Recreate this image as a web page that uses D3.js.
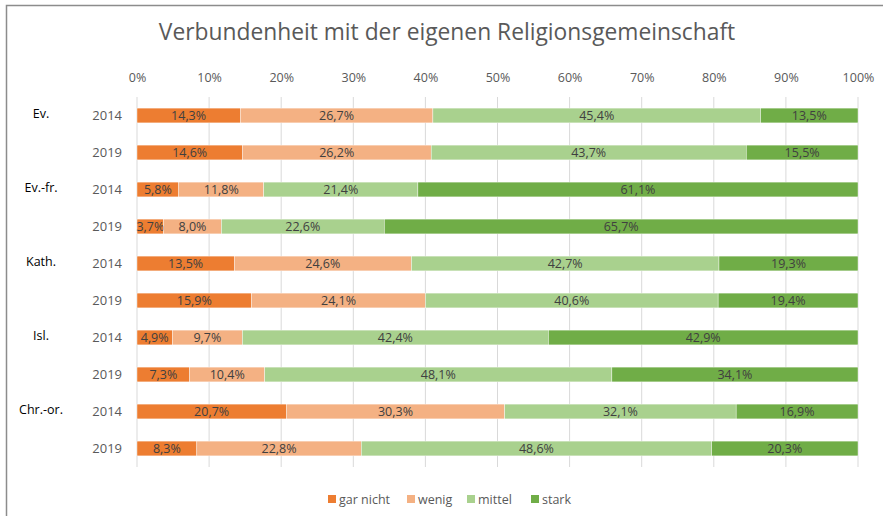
<!DOCTYPE html>
<html>
<head>
<meta charset="utf-8">
<script src="https://cdn.jsdelivr.net/npm/d3@7/dist/d3.min.js"></script>
<style>
  body { margin: 0; background: #fff; }
  svg { font-family: "Open Sans", "Noto Sans", sans-serif; }
</style>
</head>
<body>
<svg width="883" height="516"></svg>
<script>
var groups = ["Ev.", "Ev.-fr.", "Kath.", "Isl.", "Chr.-or."];
var years = ["2014", "2019"];
var levels = ["gar nicht", "wenig", "mittel", "stark"];
var levelColors = ["#ED7D31", "#F4B183", "#A9D18E", "#70AD47"];
var tickValues = [0, 0.1, 0.2, 0.3, 0.4, 0.5, 0.6, 0.7, 0.8, 0.9, 1];

// Werte in Prozent, Reihenfolge wie levels
var garNicht = [14.3, 14.6, 5.8, 3.7, 13.5, 15.9, 4.9, 7.3, 20.7, 8.3];
var wenig    = [26.7, 26.2, 11.8, 8.0, 24.6, 24.1, 9.7, 10.4, 30.3, 22.8];
var mittel   = [45.4, 43.7, 21.4, 22.6, 42.7, 40.6, 42.4, 48.1, 32.1, 48.6];
var stark    = [13.5, 15.5, 61.1, 65.7, 19.3, 19.4, 42.9, 34.1, 16.9, 20.3];

var rows = [];
groups.forEach(function(g, gi) {
  years.forEach(function(y, yi) {
    var i = gi * 2 + yi;
    rows.push({ key: g + "|" + y, group: g, year: y,
      "gar nicht": garNicht[i], "wenig": wenig[i], "mittel": mittel[i], "stark": stark[i] });
  });
});

var de = d3.formatLocale({ decimal: ",", thousands: ".", grouping: [3], currency: ["", " €"] });
var fmtVal = de.format(".1f");
var fmtAxis = de.format(".0%");

var svg = d3.select("svg");

// Rahmen
svg.append("rect")
  .attr("x", 6.5).attr("y", 5.5)
  .attr("width", 900).attr("height", 600)
  .attr("fill", "none").attr("stroke", "#8c8c8c").attr("stroke-width", 1.5);

svg.append("text")
  .attr("x", 447).attr("y", 40)
  .attr("text-anchor", "middle")
  .attr("font-size", 22.8)
  .attr("fill", "#595959")
  .text("Verbundenheit mit der eigenen Religionsgemeinschaft");

var x = d3.scaleLinear().domain([0, 1]).range([137, 858]);
var y = d3.scaleBand().domain(rows.map(function(d) { return d.key; }))
  .range([97, 467]).paddingInner(0.6).paddingOuter(0.3);

// Gitterlinien
svg.append("g").selectAll("line")
  .data(tickValues)
  .enter().append("line")
  .attr("x1", function(d) { return x(d); })
  .attr("x2", function(d) { return x(d); })
  .attr("y1", 97).attr("y2", 467)
  .attr("stroke", "#d9d9d9").attr("stroke-width", 1);

var axis = svg.append("g")
  .attr("transform", "translate(0,97)")
  .call(d3.axisTop(x).tickValues(tickValues).tickFormat(fmtAxis).tickSize(0).tickPadding(15));
axis.select(".domain").remove();
axis.selectAll("text").attr("font-size", 12.5).attr("fill", "#595959")
  .attr("font-family", "Open Sans, sans-serif");

var stack = d3.stack().keys(levels).offset(d3.stackOffsetExpand);
var series = stack(rows);

var layer = svg.append("g").selectAll("g")
  .data(series)
  .enter().append("g")
  .attr("fill", function(d, i) { return levelColors[i]; });

layer.selectAll("rect")
  .data(function(d) { return d; })
  .enter().append("rect")
  .attr("x", function(d) { return x(d[0]); })
  .attr("width", function(d) { return x(d[1]) - x(d[0]); })
  .attr("y", function(d) { return y(d.data.key); })
  .attr("height", y.bandwidth())
  .attr("stroke", "#fff").attr("stroke-width", 0.4);

layer.selectAll("text")
  .data(function(s) { return s.map(function(d) { return { d: d, key: s.key }; }); })
  .enter().append("text")
  .attr("x", function(o) { return (x(o.d[0]) + x(o.d[1])) / 2; })
  .attr("y", function(o) { return y(o.d.data.key) + y.bandwidth() / 2; })
  .attr("dy", "0.36em")
  .attr("text-anchor", "middle")
  .attr("font-size", 12.5)
  .attr("fill", "#404040")
  .text(function(o) { return fmtVal(o.d.data[o.key]) + "%"; });

// Jahr-Beschriftung
svg.append("g").selectAll("text")
  .data(rows)
  .enter().append("text")
  .attr("x", 122)
  .attr("y", function(d) { return y(d.key) + y.bandwidth() / 2; })
  .attr("dy", "0.36em")
  .attr("text-anchor", "end")
  .attr("font-size", 13)
  .attr("fill", "#595959")
  .text(function(d) { return d.year; });

// Gruppen-Beschriftung
svg.append("g").selectAll("text")
  .data(rows.filter(function(d) { return d.year == "2014"; }))
  .enter().append("text")
  .attr("x", 41)
  .attr("y", function(d) { return y(d.key) + y.bandwidth() / 2 - 2; })
  .attr("dy", "0.36em")
  .attr("text-anchor", "middle")
  .attr("font-size", 12.5)
  .attr("fill", "#000")
  .text(function(d) { return d.group; });

// Legende
var legendX = [328, 407, 467, 531];
var legend = svg.append("g").selectAll("g")
  .data(levels)
  .enter().append("g")
  .attr("transform", function(d, i) { return "translate(" + legendX[i] + ",495)"; });
legend.append("rect")
  .attr("width", 8).attr("height", 8)
  .attr("fill", function(d, i) { return levelColors[i]; });
legend.append("text")
  .attr("x", 11).attr("y", 4).attr("dy", "0.36em")
  .attr("font-size", 12.5).attr("fill", "#595959")
  .text(function(d) { return d; });
</script>
</body>
</html>
